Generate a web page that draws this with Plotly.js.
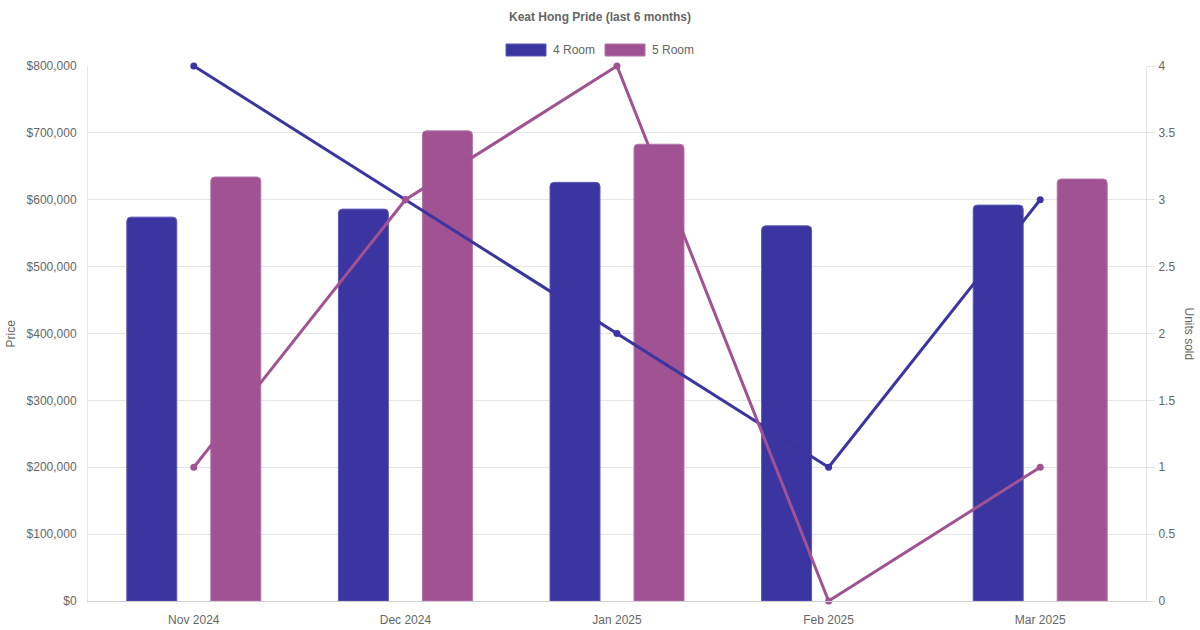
<!DOCTYPE html>
<html>
<head>
<meta charset="utf-8">
<script src="https://cdn.plot.ly/plotly-3.0.1.min.js"></script>
<style>
  html, body { margin: 0; padding: 0; background: #fff; }
  #plot { width: 1200px; height: 630px; }
</style>
</head>
<body>
<div id="plot"></div>
<script>
// months shown on the x axis
var months = ["Nov 2024", "Dec 2024", "Jan 2025", "Feb 2025", "Mar 2025"];

// average price per flat type (no 5 Room sale in Feb)
var price4Room = [574000, 586000, 626000, 561000, 592000];
var price5Room = [634000, 703000, 683000, null, 631000];

// units sold per month
var units4Room = [4, 3, 2, 1, 3];
var units5Room = [1, 3, 4, 0, 1];

var blue = "#3a35a0";
var pink = "#a05292";
var grid = "#e5e5e5";
var textCol = "#666";
var font = "Liberation Sans, Arial, sans-serif";

// plot area in pixels, used to place the hand-made legend and titles
var L = 88, R = 1146, T = 66, B = 601;
function px(x) { return (x - L) / (R - L); }
function py(y) { return (B - y) / (B - T); }

var traces = [
  {
    x: months, y: price4Room, type: "bar", name: "4 Room",
    marker: {color: blue, line: {color: "#5d59b5", width: 1}},
    hovertemplate: "%{x}<br>4 Room: $%{y:,}<extra></extra>"
  },
  {
    x: months, y: price5Room, type: "bar", name: "5 Room",
    marker: {color: pink, line: {color: "#b274a8", width: 1}},
    hovertemplate: "%{x}<br>5 Room: $%{y:,}<extra></extra>"
  },
  {
    x: months, y: units4Room, type: "scatter", mode: "lines+markers",
    name: "4 Room units", yaxis: "y2", cliponaxis: false,
    line: {color: blue, width: 3},
    marker: {color: blue, size: 7}
  },
  {
    x: months, y: units5Room, type: "scatter", mode: "lines+markers",
    name: "5 Room units", yaxis: "y2", cliponaxis: false,
    line: {color: pink, width: 3},
    marker: {color: pink, size: 7}
  }
];

var layout = {
  width: 1200,
  height: 630,
  margin: {l: L, r: 1200 - R, t: T, b: 630 - B},
  paper_bgcolor: "#fff",
  plot_bgcolor: "#fff",
  font: {family: font, size: 12, color: textCol},
  showlegend: false,
  barmode: "group",
  bargap: 0.206,
  bargroupgap: 0.405,
  barcornerradius: 4,
  xaxis: {
    type: "category",
    showgrid: false,
    showline: true,
    linecolor: "#cfcfcf",
    linewidth: 1,
    ticks: "",
    ticklabelstandoff: 8,
    tickfont: {family: font, size: 12, color: textCol},
    fixedrange: true
  },
  yaxis: {
    range: [0, 800000],
    dtick: 100000,
    tickprefix: "$",
    tickformat: ",d",
    showgrid: true,
    gridcolor: grid,
    zeroline: false,
    showline: true,
    linecolor: grid,
    ticks: "",
    ticklabelstandoff: 8,
    tickfont: {family: font, size: 12, color: textCol},
    fixedrange: true
  },
  yaxis2: {
    overlaying: "y",
    side: "right",
    range: [0, 4],
    dtick: 0.5,
    showgrid: false,
    zeroline: false,
    showline: true,
    linecolor: grid,
    ticks: "outside",
    ticklen: 8,
    tickcolor: grid,
    ticklabelstandoff: 1,
    tickfont: {family: font, size: 12, color: textCol},
    fixedrange: true
  },
  shapes: [
    {type: "rect", xref: "paper", yref: "paper",
     x0: px(506), x1: px(546), y0: py(56), y1: py(44),
     fillcolor: blue, line: {color: "#5d59b5", width: 1}},
    {type: "rect", xref: "paper", yref: "paper",
     x0: px(605), x1: px(645), y0: py(56), y1: py(44),
     fillcolor: pink, line: {color: "#b274a8", width: 1}}
  ],
  annotations: [
    {text: "<b>Keat Hong Pride (last 6 months)</b>", xref: "paper", yref: "paper",
     x: px(600), y: py(17), xanchor: "center", yanchor: "middle",
     showarrow: false, font: {family: font, size: 12, color: textCol}},
    {text: "4 Room", xref: "paper", yref: "paper",
     x: px(551), y: py(50), xanchor: "left", yanchor: "middle",
     showarrow: false, font: {family: font, size: 12, color: textCol}},
    {text: "5 Room", xref: "paper", yref: "paper",
     x: px(650), y: py(50), xanchor: "left", yanchor: "middle",
     showarrow: false, font: {family: font, size: 12, color: textCol}},
    {text: "Price", xref: "paper", yref: "paper",
     x: px(10), y: 0.5, xanchor: "center", yanchor: "middle",
     textangle: -90, showarrow: false, font: {family: font, size: 12, color: textCol}},
    {text: "Units sold", xref: "paper", yref: "paper",
     x: px(1189), y: 0.5, xanchor: "center", yanchor: "middle",
     textangle: 90, showarrow: false, font: {family: font, size: 12, color: textCol}}
  ]
};

Plotly.newPlot("plot", traces, layout, {displayModeBar: false, staticPlot: true});
</script>
</body>
</html>
